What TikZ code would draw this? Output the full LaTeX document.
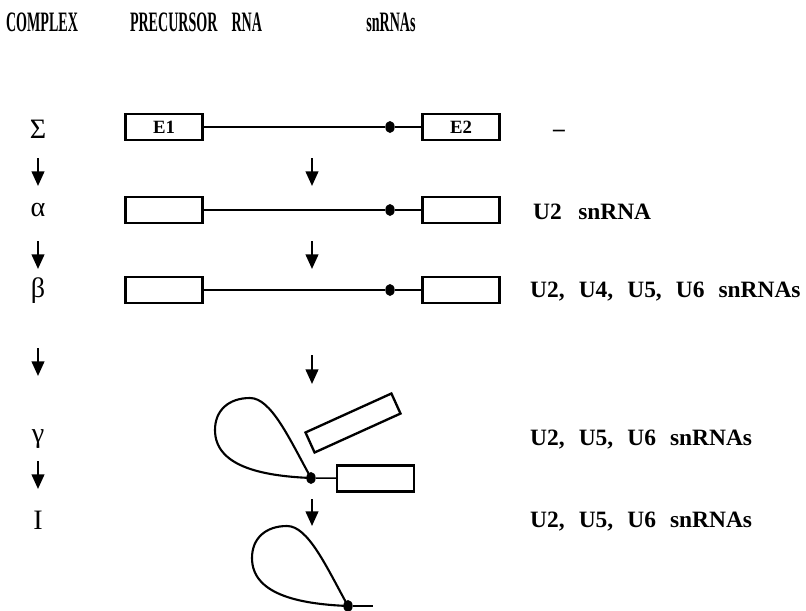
\documentclass[tikz,border=0pt]{standalone}
\usepackage{fontspec}
\setmainfont{Liberation Serif}
\usetikzlibrary{arrows.meta,positioning,calc,shapes.geometric}

\begin{document}
\begin{tikzpicture}[x=0.03cm,y=-0.03cm,
  colhead/.style={font=\fontsize{24}{28}\selectfont\bfseries},
  stage/.style={font=\fontsize{24}{28}\selectfont},
  snrna/.style={font=\fontsize{20}{24}\selectfont\bfseries,anchor=west,inner sep=0pt},
  exon/.style={draw,line width=2pt,minimum width=2.31cm,minimum height=0.78cm,inner sep=0pt,font=\fontsize{16}{18}\selectfont\bfseries},
  intron/.style={line width=1.2pt},
  bp/.style={ellipse,fill,inner sep=0pt,minimum width=0.28cm,minimum height=0.36cm},
  flow/.style={line width=1.8pt,-{Triangle[length=0.44cm,width=0.38cm]}},
  lariat/.pic={\draw[line width=1.8pt] (0,0) .. controls (-22,-40) and (-40,-80) .. (-61,-80)
      .. controls (-82,-80) and (-96,-68) .. (-96,-48)
      .. controls (-96,-12) and (-50,-2) .. (0,0);}]
\useasboundingbox (0,0) rectangle (806,610);

% column heads
\node[colhead] (hcomplex) at (42,22) {\scalebox{0.5}[1]{COMPLEX}};
\node[colhead] (hrna) at (196,22) {\scalebox{0.5}[1]{PRECURSOR\quad RNA}};
\node[colhead] (hsnrna) at (391,22) {\scalebox{0.5}[1]{snRNAs}};

% complexes
\node[stage] (sigma) at (38,129) {Σ};
\node[stage] (alpha) at (38,210) {α};
\node[stage] (beta) at (38,291) {β};
\node[stage] (gamma) at (38,439) {γ};
\node[stage] (inter) at (38,520) {I};

% precursor, sigma
\node[exon] (e1s) at (164,127) {E1};
\node[exon] (e2s) at (461,127) {E2};
\node[bp] (bps) at (390,127) {};
\draw[intron] (e1s) -- (bps) -- (e2s);

% alpha
\node[exon] (e1a) at (164,210) {};
\node[exon] (e2a) at (461,210) {};
\node[bp] (bpa) at (390,210) {};
\draw[intron] (e1a) -- (bpa) -- (e2a);

% beta
\node[exon] (e1b) at (164,290) {};
\node[exon] (e2b) at (461,290) {};
\node[bp] (bpb) at (390,290) {};
\draw[intron] (e1b) -- (bpb) -- (e2b);

% gamma
\node[bp] (bpg) at (311,478) {};
\node[exon] (e2g) at (375.5,478.5) {};
\node[exon,rotate=24.4,minimum width=2.83cm,minimum height=0.66cm] (e1g) at (353,423) {};
\pic at (bpg) {lariat};
\draw[intron] (bpg) -- (e2g);

% intron lariat
\node[bp] (bpi) at (348,606) {};
\coordinate (tail) at (373,606);
\pic at (bpi) {lariat};
\draw[intron] (bpi) -- (tail);

% snRNAs
\node[snrna] (nonesn) at (553,133) {--};
\node[snrna] (snalpha) at (533,212) {U2\hspace{0.7em}snRNA};
\node[snrna] (snbeta) at (530,292) {U2,\hspace{0.6em}U4,\hspace{0.6em}U5,\hspace{0.6em}U6\hspace{0.6em}snRNAs};
\node[snrna] (sngamma) at (530,440) {U2,\hspace{0.6em}U5,\hspace{0.6em}U6\hspace{0.6em}snRNAs};
\node[snrna] (sninter) at (530,522) {U2,\hspace{0.6em}U5,\hspace{0.6em}U6\hspace{0.6em}snRNAs};

% steps
\foreach \n/\x/\ya/\yb in {l1/38/158/186,l2/38/241/269,l3/38/348/376,l4/38/461/489,
    m1/312/158/186,m2/312/241/269,m3/312/355/384,m4/312/499/526} {
  \coordinate (\n a) at (\x,\ya);
  \coordinate (\n b) at (\x,\yb);
  \draw[flow] (\n a) -- (\n b);
}
\end{tikzpicture}
\end{document}
